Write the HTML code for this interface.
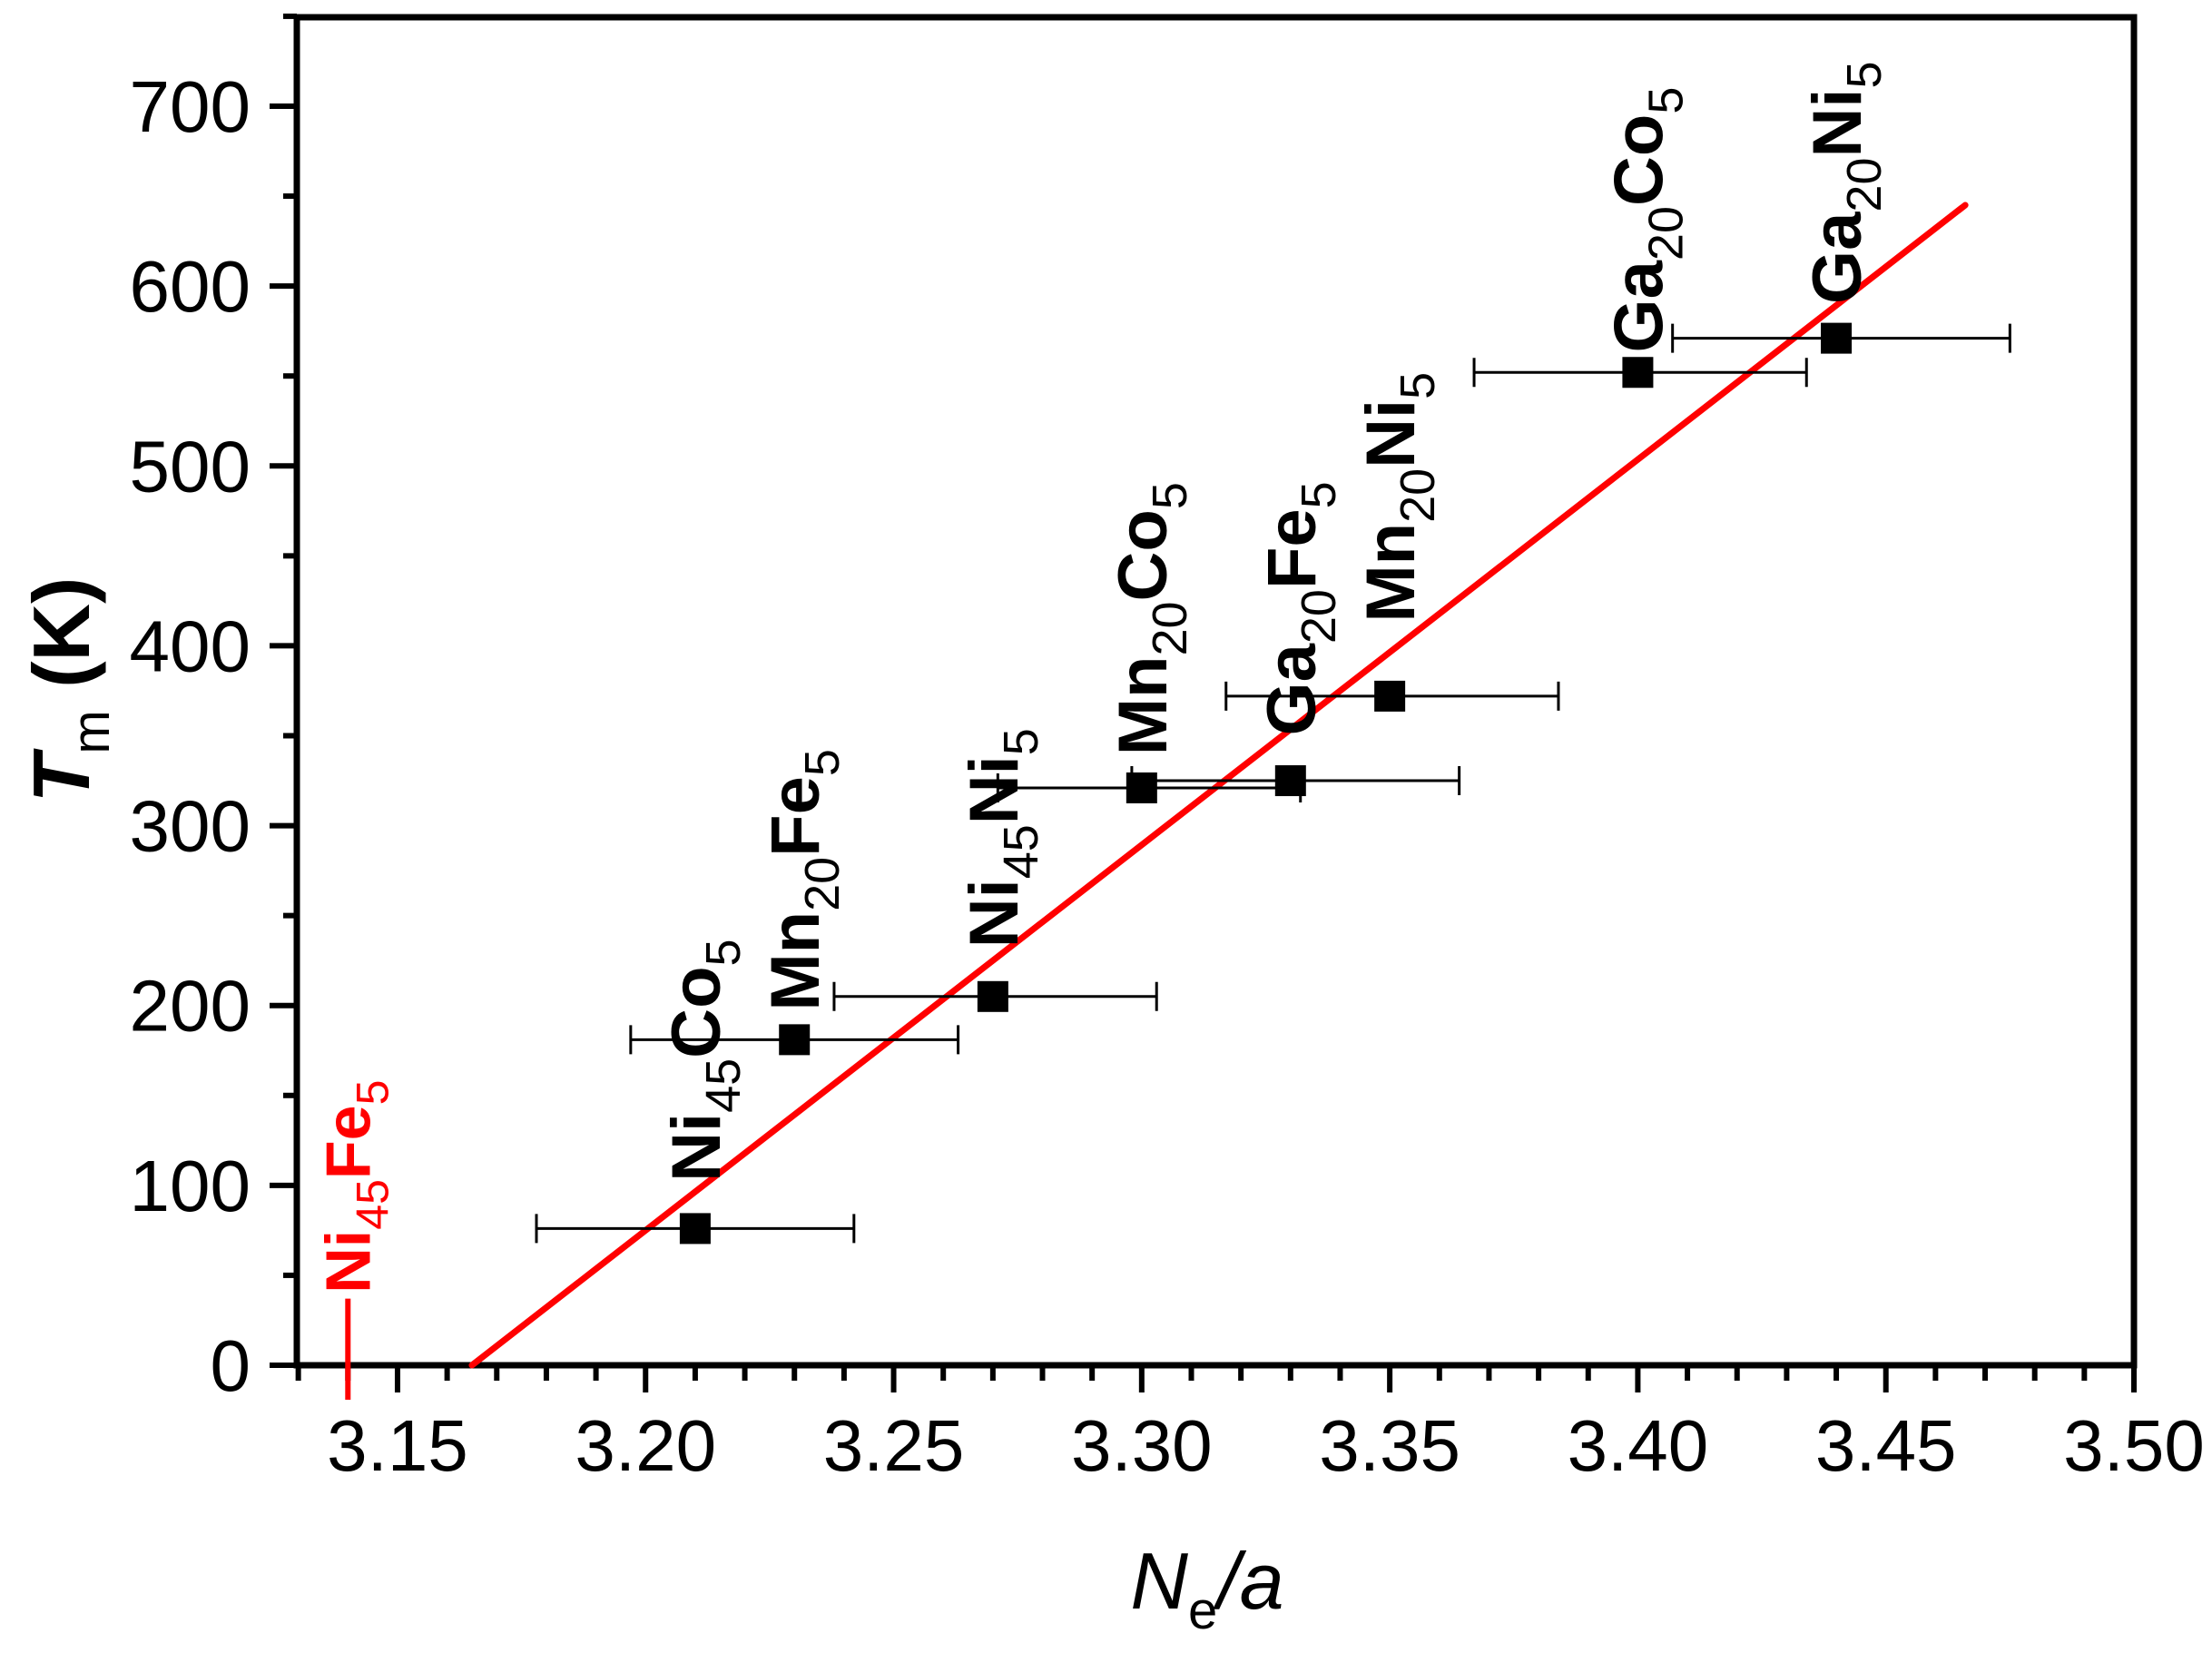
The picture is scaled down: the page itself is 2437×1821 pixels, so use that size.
<!DOCTYPE html>
<html><head><meta charset="utf-8"><style>
html,body{margin:0;padding:0;background:#fff}
svg{display:block}
text{font-family:"Liberation Sans",Arial,sans-serif}
</style></head><body>
<svg id="chart" width="2437" height="1821" viewBox="0 0 2437 1821" xmlns="http://www.w3.org/2000/svg">
<g id="g"></g>
</svg>
<script>
const xVals=[3.21,3.23,3.27,3.30,3.33,3.35,3.40,3.44];
const yVals=[76,181,205,321,325,372,552,571];
const xErrLo=[3.178,3.197,3.238,3.271,3.298,3.317,3.367,3.407];
const xErrHi=[3.242,3.263,3.303,3.332,3.364,3.384,3.434,3.475];
const labelMain=["Ni","Mn","Ni","Mn","Ga","Mn","Ga","Ga"];
const labelSub1=["45","20","45","20","20","20","20","20"];
const labelMain2=["Co","Fe","Ni","Co","Fe","Ni","Co","Ni"];
const labelSub2=["5","5","5","5","5","5","5","5"];
const labelBottom=[102,197,232,339,350,413,563,590];
const fitX=[3.165,3.466];
const fitY=[0,645];
const refX=3.14;
const xTicks=["3.15","3.20","3.25","3.30","3.35","3.40","3.45","3.50"];
const yTicks=["0","100","200","300","400","500","600","700"];

const L=327,R=2351,T=19,B=1504;
const X0=3.1297,X1=3.50;
const sx=v=>L+(v-X0)/(X1-X0)*(R-L);
const sy=v=>B-v*(B-117)/700;
const NS="http://www.w3.org/2000/svg";
const g=document.getElementById('g');
function el(t,a,p){const e=document.createElementNS(NS,t);for(const k in a)e.setAttribute(k,a[k]);(p||g).appendChild(e);return e;}

let f=el('rect',{x:L,y:T,width:R-L,height:B-T,fill:'none',stroke:'#000','stroke-width':7});



for(let i=0;i<=37;i++){const v=3.13+i*0.01;if(v>3.5001)break;const major=Math.abs((v*100)%5)<0.01||Math.abs((v*100)%5-5)<0.01;
 let t=el('line',{x1:sx(v),x2:sx(v),y1:B,y2:B+(major?30:17),stroke:'#000','stroke-width':6});
 
 }
xTicks.forEach(s=>{let t=el('text',{x:sx(+s),y:1620,'font-size':80,'text-anchor':'middle'});t.textContent=s;
 
 });
for(let v=0;v<=750;v+=50){const major=v%100===0;
 let t=el('line',{x1:L,x2:L-(major?30:15),y1:sy(v),y2:sy(v),stroke:'#000','stroke-width':6});
 
 }
yTicks.forEach(s=>{let t=el('text',{x:276,y:sy(+s)+28,'font-size':80,'text-anchor':'end'});t.textContent=s;
 
 });

let xt=el('text',{x:1330,y:1772,'font-size':88,'text-anchor':'middle','font-style':'italic'});
xt.innerHTML='N<tspan font-size="58" font-style="normal" dy="22">e</tspan><tspan dy="-22">/a</tspan>';


let yt=el('text',{transform:'translate(98,760) rotate(-90)','font-size':88,'text-anchor':'middle','font-weight':'bold'});
yt.innerHTML='<tspan font-style="italic">T</tspan><tspan font-size="58" dy="22" font-weight="normal">m</tspan><tspan dy="-22"> (K)</tspan>';



let fl=el('line',{x1:sx(fitX[0]),y1:sy(fitY[0]),x2:sx(fitX[1]),y2:sy(fitY[1]),stroke:'#f00','stroke-width':7,'stroke-linecap':'round'});



let rl=el('line',{x1:sx(refX),x2:sx(refX),y1:sy(37),y2:B+38,stroke:'#f00','stroke-width':6});


let rt=el('text',{transform:`translate(${sx(refX)+24},${sy(40)}) rotate(-90)`,'font-size':70,'font-weight':'bold',fill:'#f00'});
rt.innerHTML='Ni<tspan font-size="50" font-weight="normal" dy="20">45</tspan><tspan dy="-20">Fe</tspan><tspan font-size="50" font-weight="normal" dy="20">5</tspan>';



xVals.forEach((xv,i)=>{
 const y=sy(yVals[i]);
 let eb=el('path',{d:`M${sx(xErrLo[i])},${y}H${sx(xErrHi[i])}M${sx(xErrLo[i])},${y-16}V${y+16}M${sx(xErrHi[i])},${y-16}V${y+16}`,stroke:'#000','stroke-width':3,fill:'none'});
 
 
 let p=el('rect',{x:sx(xv)-17,y:y-17,width:34,height:34,fill:'#000'});
 
 
 let lt=el('text',{transform:`translate(${sx(xv)+27},${sy(labelBottom[i])}) rotate(-90)`,'font-size':76,'font-weight':'bold'});
 lt.innerHTML=`${labelMain[i]}<tspan font-size="54" font-weight="normal" dy="22">${labelSub1[i]}</tspan><tspan dy="-22">${labelMain2[i]}</tspan><tspan font-size="54" font-weight="normal" dy="22">${labelSub2[i]}</tspan>`;
 
 
});
</script>
</body></html>
